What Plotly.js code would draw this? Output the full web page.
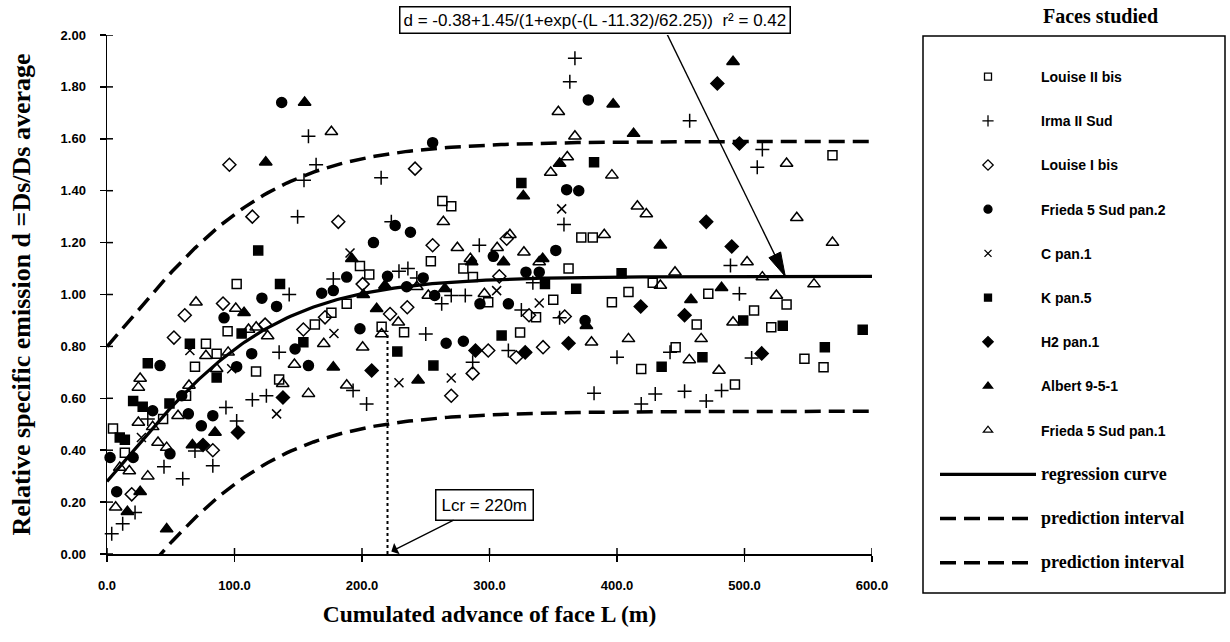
<!DOCTYPE html>
<html><head><meta charset="utf-8">
<script src="https://cdn.plot.ly/plotly-3.0.1.min.js"></script>
<style>html,body{margin:0;padding:0;background:#fff}#chart{width:1230px;height:642px}</style>
</head><body><div id="chart"></div>
<script>
// ---- data: L = cumulated advance (m), d = relative specific emission ----
const louise2_L = [101.7,94.6,77.6,86,69,116.9,62,135,44,4.7,14,263,270,198.4,205.7,254,279.5,287,299,188,176,163,215.4,233,372,381,362,428,409,396,471.6,350,336.5,324,419,446,462.5,533,507.5,521,547,562,492.5,569];
const louise2_d = [1.04,0.858,0.81,0.772,0.722,0.703,0.61,0.672,0.52,0.484,0.39,1.36,1.34,1.11,1.077,1.128,1.10,1.067,0.97,0.964,0.93,0.884,0.876,0.855,1.22,1.22,1.10,1.045,1.01,0.97,1.003,0.98,0.912,0.854,0.713,0.797,0.884,0.961,0.938,0.874,0.752,0.72,0.653,1.537];

const irma_L = [158,154.5,149.5,142.9,164,215,223,292,177.5,236,229,243,270,262.5,281,250,193,203.6,286.8,314.8,135,114,125,93.3,101.7,32,69,44.7,59.4,83,22,12.3,3.7,367,363,457,358.4,334,325,355,400,441.6,382,430,419,453,470,505.6,482,514,510,489,496];
const irma_d = [1.61,1.44,1.30,1.00,1.50,1.45,1.28,1.19,1.06,1.10,1.09,1.064,0.996,0.964,0.996,0.848,0.63,0.578,0.739,0.784,0.777,0.594,0.61,0.565,0.513,0.52,0.397,0.336,0.29,0.34,0.16,0.117,0.078,1.91,1.82,1.67,1.27,1.045,0.94,0.91,0.758,0.777,0.619,0.617,0.578,0.627,0.59,0.755,0.63,1.559,1.49,1.112,1.003];

const louise1_L = [96,114,91,61,124,154,52.5,83,19.4,241.6,181.4,255.4,313.5,307.7,200.5,222,235.5,171,270,299,286.8,331,359,321,342];
const louise1_d = [1.50,1.30,0.965,0.92,0.884,0.865,0.834,0.40,0.23,1.485,1.28,1.19,1.215,1.07,1.04,0.925,0.951,0.912,0.61,0.784,0.696,0.92,0.915,0.758,0.797];

const frieda2_L = [137,121.5,133,91.8,147.5,158,113.5,101.7,41.6,58.6,35.8,63.8,83,74,49.4,20.5,2.4,7.6,255.4,226,238,209,188,220,248,303,168.4,177.5,235,257,292.5,314.8,198.4,266,279.5,377.5,360.5,370,352,328.6,339,375];
const frieda2_d = [1.74,0.986,0.954,0.91,0.79,0.726,0.772,0.722,0.726,0.61,0.552,0.54,0.533,0.494,0.386,0.372,0.372,0.24,1.585,1.266,1.24,1.20,1.067,1.07,1.064,1.147,1.005,1.015,1.03,0.996,0.964,0.964,0.868,0.812,0.82,1.75,1.404,1.40,1.17,1.086,1.086,0.90];

const cpan_L = [65,97.8,133,27,190.6,305.6,178,229,270,356.6,339];
const cpan_d = [0.784,0.714,0.54,0.449,1.16,1.015,0.85,0.66,0.678,1.33,0.967];

const kpan_L = [118.6,135.7,105.6,154,65,86,32,20.5,28,10,14,49,227.7,256,309.5,382,325,343.5,403.6,368,435,467,499,530,592.7,563];
const kpan_d = [1.17,1.04,0.85,0.816,0.81,0.68,0.735,0.59,0.567,0.449,0.44,0.58,0.78,0.726,0.842,1.51,1.43,1.04,1.082,1.022,0.722,0.758,0.90,0.88,0.864,0.797];

const h2_L = [138,102.7,75.3,207.6,289,470,418.6,453,328,362,478.7,496,490,513.5];
const h2_d = [0.603,0.468,0.42,0.707,0.784,1.28,0.954,0.92,0.777,0.812,1.813,1.582,1.185,0.773];

const albert_L = [155,124.5,107.5,84.7,67,26,16,46.8,192,201,218,265,286,311,211.5,177.5,244,397,413,355,326.5,434,341.7,458,376,491,482];
const albert_d = [1.74,1.51,0.93,0.468,0.42,0.24,0.163,0.096,1.138,0.999,1.035,1.022,1.125,1.125,0.945,0.72,0.67,1.733,1.62,1.505,1.38,1.19,1.138,0.98,0.88,1.897,1.026];

const frieda1_L = [69.8,101,111,117,126,147,77.6,95,86,26,24.6,64.3,137.8,158,55.7,24.6,35.8,40,46.8,17.5,32,10,6.8,176,263.8,274.8,306,285,243,252,296,170,200.5,215.4,228.5,188,354,367,361,348,396,416,423,390,316,327,339,445.5,434,380,409,466,456.7,491,480,533,541,569,502,514,554.5,525];
const frieda1_d = [0.97,0.946,0.865,0.874,0.84,0.73,0.764,0.777,0.714,0.676,0.642,0.649,0.656,0.618,0.533,0.507,0.49,0.43,0.41,0.32,0.30,0.333,0.18,1.627,1.28,1.18,1.18,1.138,1.03,0.996,1.003,0.81,0.797,0.848,0.893,0.65,1.704,1.61,1.53,1.47,1.46,1.34,1.31,1.23,1.23,1.163,1.125,1.086,1.035,0.816,0.829,0.829,0.748,0.893,0.707,1.505,1.296,1.20,1.125,1.067,1.04,0.996];

// regression printed on the chart: d = -0.38 + 1.45/(1+exp(-(L-11.32)/62.25)), r2 = 0.42
const REG_A = -0.38, REG_B = 1.45, REG_C = 11.32, REG_S = 62.25;
const PI_HALF = 0.52;     // half width of the prediction band
const L_CR = 220;         // critical advance (m)
const LCR_LINE_TOP = 0.86;
const ARROW_TAIL = [437.6, 2.02];   // where the pointer from the equation box starts (L, d)
const ARROW_TIP_L = 532;            // where it lands on the regression curve
const xTicks = [0,100,200,300,400,500,600];
const yTicks = [0,0.2,0.4,0.6,0.8,1.0,1.2,1.4,1.6,1.8,2.0];

const seriesNames = ['Louise II bis','Irma II Sud','Louise I bis','Frieda 5 Sud pan.2','C pan.1','K pan.5','H2 pan.1','Albert 9-5-1','Frieda 5 Sud pan.1'];

// ---- build ----
const curveL = [];
for (let L = 0; L <= 600; L += 3) curveL.push(L);
const regAt = L => REG_A + REG_B / (1 + Math.exp(-(L - REG_C) / REG_S));
const reg = curveL.map(regAt);
const piUp = reg.map(v => v + PI_HALF);
const piLo = reg.map(v => v - PI_HALF);

const markerStyles = [
  {symbol:'square-open', size:9},
  {symbol:'cross-thin-open', size:10},
  {symbol:'diamond-open', size:10},
  {symbol:'circle', size:10},
  {symbol:'x-thin-open', size:9},
  {symbol:'square', size:9},
  {symbol:'diamond', size:10},
  {symbol:'triangle-up', size:11},
  {symbol:'triangle-up-open', size:11}
];
const xs = [louise2_L, irma_L, louise1_L, frieda2_L, cpan_L, kpan_L, h2_L, albert_L, frieda1_L];
const ys = [louise2_d, irma_d, louise1_d, frieda2_d, cpan_d, kpan_d, h2_d, albert_d, frieda1_d];

const serif = "'Liberation Serif', 'Times New Roman', serif";
const sans = "'Liberation Sans', Arial, sans-serif";

// data markers (legend shown through smaller proxy entries, as in the original key)
const traces = seriesNames.map((n, i) => ({
  type:'scatter', mode:'markers', name:n, x:xs[i], y:ys[i],
  legendgroup:'g'+i, showlegend:false, cliponaxis:false,
  marker:{symbol:markerStyles[i].symbol, size:markerStyles[i].size, color:'#000', line:{color:'#000', width:1.5}},
  hoverinfo:'x+y+name'
}));
seriesNames.forEach((n, i) => traces.push({
  type:'scatter', mode:'markers', name:n, x:[null], y:[null], legendgroup:'g'+i, showlegend:true,
  marker:{symbol:markerStyles[i].symbol, size:Math.round(markerStyles[i].size * 0.75), color:'#000', line:{color:'#000', width:1.3}},
  hoverinfo:'skip'
}));

const bigName = t => '<span style="font-family:Liberation Serif;font-weight:bold;font-size:18px">' + t + '</span>';
traces.push({type:'scatter', mode:'lines', x:curveL, y:reg, name:bigName('regression curve'), legendgroup:'r', line:{color:'#000', width:3.2}});
traces.push({type:'scatter', mode:'lines', x:curveL, y:piUp, name:bigName('prediction interval'), legendgroup:'pu', line:{color:'#000', width:3.5, dash:'16px,8px'}});
traces.push({type:'scatter', mode:'lines', x:curveL, y:piLo, name:bigName('prediction interval'), legendgroup:'pl', line:{color:'#000', width:3.5, dash:'16px,8px'}});

// pixel helpers (plot area 107..872 x, 35..554 y)
const PL = 107, PR = 872, PT = 35, PB = 554;
const px = v => (v - PL) / (PR - PL);
const py = v => (PB - v) / (PB - PT);
const kx = (PR - PL) / 600, ky = (PB - PT) / 2;   // px per data unit

// arrowhead of the equation pointer, built in pixel space then mapped to data units
const tip = [ARROW_TIP_L, regAt(ARROW_TIP_L)];
const dxp = (tip[0] - ARROW_TAIL[0]) * kx, dyp = -(tip[1] - ARROW_TAIL[1]) * ky;
const len = Math.hypot(dxp, dyp), ux = dxp / len, uy = dyp / len;
const HEAD_LEN = 24, HEAD_HW = 6.5;
const bx = -ux * HEAD_LEN, by = -uy * HEAD_LEN;
const p1 = [tip[0] + (bx - uy * HEAD_HW) / kx, tip[1] - (by + ux * HEAD_HW) / ky];
const p2 = [tip[0] + (bx + uy * HEAD_HW) / kx, tip[1] - (by - ux * HEAD_HW) / ky];
const headPath = `M${tip[0]},${tip[1]} L${p1[0]},${p1[1]} L${p2[0]},${p2[1]} Z`;

// inner half of the crossing tick marks (pixel-sized shapes anchored on the tick values)
const innerTicks = [];
xTicks.forEach(t => innerTicks.push({type:'line', xref:'x', yref:'y', ysizemode:'pixel', yanchor:0, x0:t, x1:t, y0:0, y1:6, line:{color:'#000', width:1.5}}));
yTicks.forEach(t => innerTicks.push({type:'line', xref:'x', yref:'y', xsizemode:'pixel', xanchor:0, x0:0, x1:6, y0:t, y1:t, line:{color:'#000', width:1.5}}));

const layout = {
  width:1230, height:642,
  margin:{l:PL, r:1230-PR, t:PT, b:642-PB},
  paper_bgcolor:'#fff', plot_bgcolor:'#fff',
  font:{family:sans, color:'#000', size:13},
  showlegend:true,
  xaxis:{range:[0,600], tickvals:xTicks, tickformat:'.1f', ticks:'outside', ticklen:6, tickwidth:1.5, tickcolor:'#000',
         showline:true, linewidth:1.5, linecolor:'#000', showgrid:false, zeroline:false, ticklabelstandoff:13,
         tickfont:{family:sans, size:13, color:'#000', weight:'bold'},
         title:{text:'Cumulated advance of face L (m)', font:{family:serif, size:23.5, weight:'bold', color:'#000'}, standoff:13}},
  yaxis:{range:[0,2], tickvals:yTicks, tickformat:'.2f', ticks:'outside', ticklen:6, tickwidth:1.5, tickcolor:'#000',
         showline:true, linewidth:1.5, linecolor:'#000', showgrid:false, zeroline:false, ticklabelstandoff:11,
         tickfont:{family:sans, size:13, color:'#000', weight:'bold'},
         title:{text:'Relative specific emission d =Ds/Ds average', font:{family:serif, size:26, weight:'bold', color:'#000'}, standoff:22}},
  legend:{x:px(935), y:py(61), xanchor:'left', yanchor:'top', bgcolor:'rgba(0,0,0,0)', borderwidth:0,
          font:{family:sans, size:14, color:'#000', weight:'bold'}, itemwidth:96, tracegroupgap:23, traceorder:'grouped'},
  shapes:[
    {type:'rect', xref:'paper', yref:'paper', x0:px(923), x1:px(1225), y0:py(593), y1:py(36), line:{color:'#000', width:1.5}},
    {type:'line', xref:'x', yref:'y', x0:L_CR, x1:L_CR, y0:0, y1:LCR_LINE_TOP, line:{color:'#000', width:2, dash:'dot'}},
    {type:'line', xref:'x', yref:'y', x0:ARROW_TAIL[0], y0:ARROW_TAIL[1], x1:tip[0], y1:tip[1], line:{color:'#000', width:1.4}},
    {type:'path', xref:'x', yref:'y', path:headPath, fillcolor:'#000', line:{color:'#000', width:1}}
  ].concat(innerTicks),
  annotations:[
    {xref:'paper', yref:'paper', x:px(1100), y:py(16), xanchor:'center', yanchor:'middle', text:'Faces studied', showarrow:false,
     font:{family:serif, size:20, weight:'bold', color:'#000'}},
    {xref:'paper', yref:'paper', x:px(595), y:py(20), xanchor:'center', yanchor:'middle',
     text:'d = -0.38+1.45/(1+exp(-(L -11.32)/62.25))  r\u00B2 = 0.42', showarrow:false,
     font:{family:sans, size:17, color:'#000'}, bordercolor:'#000', borderwidth:1.5, borderpad:3, bgcolor:'#fff'},
    {xref:'x', yref:'y', x:L_CR + 3, y:0.01, axref:'x', ayref:'y', ax:295.7, ay:0.189,
     text:'Lcr = 220m', showarrow:true, arrowhead:1, arrowsize:1.6, arrowwidth:1.3, arrowcolor:'#000', standoff:0,
     font:{family:sans, size:17, color:'#000'}, bordercolor:'#000', borderwidth:1.5, borderpad:5, bgcolor:'#fff'}
  ]
};

Plotly.newPlot('chart', traces, layout, {staticPlot:true, displayModeBar:false}).then(() => {
  // drop empty placeholder text nodes and Plotly's hidden measuring svg
  document.querySelectorAll('text').forEach(t => { if (!t.textContent.trim()) t.remove(); });
  const tester = document.getElementById('js-plotly-tester');
  if (tester) tester.remove();
});
</script>
</body></html>
